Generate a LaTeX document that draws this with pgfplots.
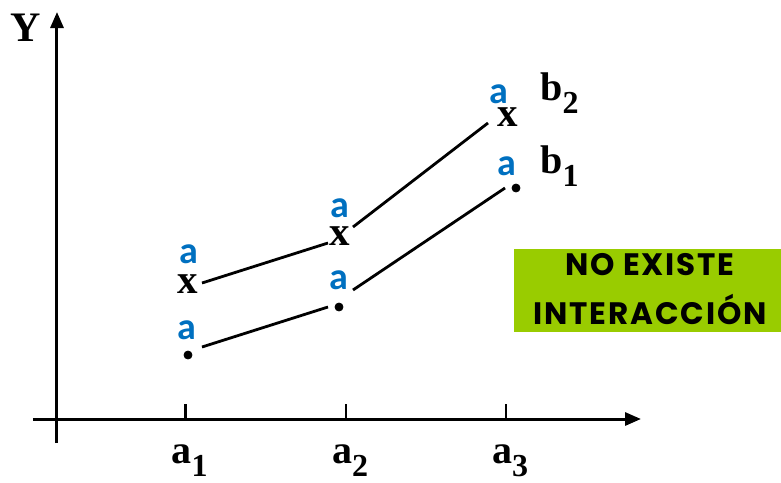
\documentclass[border=0pt]{standalone}
\usepackage{pgfplots}
\pgfplotsset{compat=1.18}
\usetikzlibrary{arrows.meta}
\usepackage{fontspec}
\setmainfont{Liberation Serif}
\newfontfamily\calib{Carlito}
\newfontfamily\boxfont[LetterSpace=6]{Poppins}
\definecolor{letterblue}{HTML}{0070C0}
\definecolor{boxgreen}{HTML}{99CC00}
% bold letter with a large lowered index, as in the slide
\newcommand{\lab}[2]{\textbf{#1\raisebox{-6.5pt}{\fontsize{16}{16}\selectfont #2}}}
\newcommand{\labsize}{\fontsize{20}{24}\selectfont}

\begin{document}
\begin{tikzpicture}
\begin{axis}[
    x=0.5pt, y=0.5pt,
    axis lines=middle,
    xmin=-24, xmax=584,
    ymin=-24, ymax=407,
    clip=false,
    axis line style={line width=1.5pt, -{Triangle[length=8pt,width=6.5pt]}},
    xtick={128.6,289,449},
    xticklabels={\lab{a}{1},\lab{a}{2},\lab{a}{3}},
    xticklabel style={anchor=base, yshift=-22pt, xshift=2pt, font=\labsize},
    ytick=\empty,
    tick align=inside,
    major tick length=7.5pt,
    tick style={black, line width=1.2pt},
]
    % keep the page at the slide's size
    \path (axis cs:-57,-58) rectangle (axis cs:724,419);

    % b2 : segments between the means (gaps at the marks)
    \addplot[black, line width=1.4pt] coordinates {(145,136) (271,176)};
    \addplot[black, line width=1.4pt] coordinates {(296,192) (431,296)};
    % b1
    \addplot[black, line width=1.4pt] coordinates {(145,72) (271,112)};
    \addplot[black, line width=1.4pt] coordinates {(296,129) (448,231)};

    % b1 means: dots
    \addplot[only marks, mark=*, mark size=2pt, black]
        coordinates {(131,64) (282,112) (459,231)};
    % b2 means: x
    \addplot[only marks, mark=text, text mark as node=true,
        text mark={\textbf{x}},
        text mark style={font=\fontsize{20.5}{21}\selectfont, inner sep=0pt}]
        coordinates {(131,135) (283,183) (451,302)};
    % letters of the groups
    \addplot[only marks, mark=text, text mark as node=true,
        text mark={\calib\bfseries a},
        text mark style={font=\fontsize{19}{20}\selectfont,
            text=letterblue, inner sep=0pt}]
        coordinates {(130,89) (132,165) (282,139) (283,211) (442,325) (450,253)};

    \node[anchor=base west, inner sep=0pt, font=\labsize] at (axis cs:483,319) {\lab{b}{2}};
    \node[anchor=base west, inner sep=0pt, font=\labsize] at (axis cs:483,246) {\lab{b}{1}};
    \node[inner sep=0pt, font=\fontsize{21}{24}\selectfont] at (axis cs:-31,391.5) {\textbf{Y}};

    \fill[boxgreen] (axis cs:457,87) rectangle (axis cs:724,170);
    \node[inner sep=0pt, font=\boxfont\bfseries\fontsize{15.5}{18}\selectfont] at (axis cs:593,154.5) {NO EXISTE};
    \node[inner sep=0pt, font=\boxfont\bfseries\fontsize{15.5}{18}\selectfont] at (axis cs:593,109.5) {INTERACCIÓN};
\end{axis}
\end{tikzpicture}
\end{document}
